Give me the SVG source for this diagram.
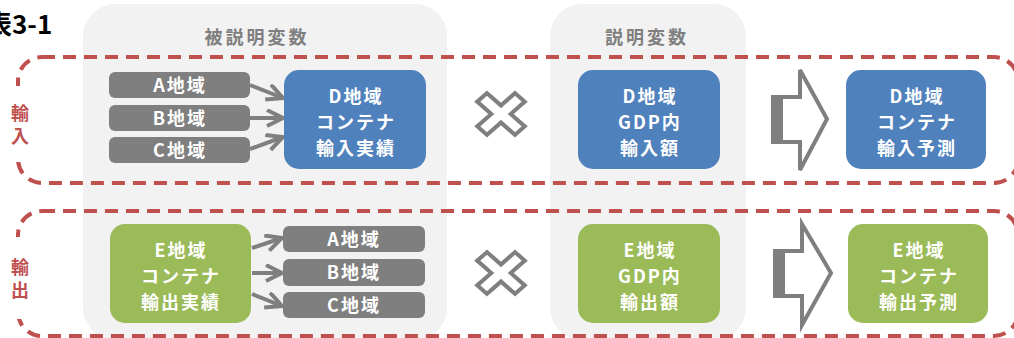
<svg xmlns="http://www.w3.org/2000/svg" width="1014" height="338" viewBox="0 0 1014 338">
<defs>
<style>
.panel{fill:#f2f2f2}
.hdr{font-family:"Noto Sans CJK JP","Liberation Sans",sans-serif;font-weight:bold;font-size:18px;fill:#7f7f7f;text-anchor:middle;letter-spacing:3px}
.dash{fill:none;stroke:#c0504d;stroke-width:4;stroke-dasharray:13 8}
.side{font-family:"Noto Sans CJK JP","Liberation Sans",sans-serif;font-weight:bold;font-size:18px;fill:#c0504d;text-anchor:middle;letter-spacing:5px}
.gbox{fill:#7f7f7f}
.blue{fill:#4f81bd}
.green{fill:#9bbb59}
.t{font-family:"Noto Sans CJK JP","Liberation Sans",sans-serif;font-weight:bold;font-size:18px;fill:#ffffff;text-anchor:middle;letter-spacing:2px}
.conn{stroke:#7f7f7f;stroke-width:4;fill:none}
.cross{fill:#ffffff;stroke:#7f7f7f;stroke-width:4;stroke-linejoin:miter}
.big{fill:#ffffff;stroke:#7f7f7f;stroke-width:4;stroke-linejoin:miter}
</style>
<marker id="chev" markerUnits="userSpaceOnUse" markerWidth="20" markerHeight="20" refX="17" refY="9" orient="auto" viewBox="0 0 20 20">
<path d="M1,1 L17,9 L1,17" fill="none" stroke="#7f7f7f" stroke-width="4"/>
</marker>
<polygon id="xs" class="cross" points="-22,-13 -13,-22 0,-9 13,-22 22,-13 9,0 22,13 13,22 0,9 -13,22 -22,13 -9,0"/>
</defs>

<text x="-14" y="34" font-family="'Noto Sans CJK JP','Liberation Sans',sans-serif" font-weight="bold" font-size="26" fill="#000000">表3-1</text>

<g id="panels">
<rect class="panel" x="83" y="4" width="364" height="336" rx="32"/>
<rect class="panel" x="550" y="4" width="196" height="336" rx="32"/>
<text class="hdr" x="257" y="44">被説明変数</text>
<text class="hdr" x="647" y="44">説明変数</text>
</g>

<g id="groups">
<rect class="dash" x="18" y="57" width="1000" height="126" rx="24"/>
<rect x="6" y="86" width="28" height="76" fill="#ffffff"/>
<text class="side" x="20" y="127" writing-mode="tb">輸入</text>
<rect class="dash" x="18" y="211" width="1000" height="125" rx="24"/>
<rect x="6" y="237" width="28" height="82" fill="#ffffff"/>
<text class="side" x="20" y="281" writing-mode="tb">輸出</text>
</g>

<g id="connectors">
<line class="conn" x1="250" y1="85" x2="283" y2="98" marker-end="url(#chev)"/>
<line class="conn" x1="250" y1="118" x2="283" y2="118" marker-end="url(#chev)"/>
<line class="conn" x1="250" y1="149" x2="283" y2="137" marker-end="url(#chev)"/>
<line class="conn" x1="252" y1="248" x2="282" y2="238" marker-end="url(#chev)"/>
<line class="conn" x1="252" y1="273" x2="282" y2="273" marker-end="url(#chev)"/>
<line class="conn" x1="252" y1="294" x2="282" y2="306" marker-end="url(#chev)"/>
</g>

<g id="nodeA1"><rect class="gbox" x="109" y="72" width="141" height="26" rx="6"/><text class="t" x="180" y="92">A地域</text></g>
<g id="nodeB1"><rect class="gbox" x="109" y="105" width="141" height="26" rx="6"/><text class="t" x="180" y="125">B地域</text></g>
<g id="nodeC1"><rect class="gbox" x="109" y="137" width="141" height="26" rx="6"/><text class="t" x="180" y="157">C地域</text></g>

<g id="nodeDImport">
<rect class="blue" x="284" y="70" width="142" height="99" rx="15"/>
<text class="t" x="356" y="103">D地域</text>
<text class="t" x="356" y="129">コンテナ</text>
<text class="t" x="356" y="155">輸入実績</text>
</g>

<g id="cross1"><use href="#xs" transform="translate(501,114) scale(1.08,0.95)"/></g>

<g id="nodeDGDP">
<rect class="blue" x="578" y="70" width="142" height="99" rx="15"/>
<text class="t" x="650" y="103">D地域</text>
<text class="t" x="650" y="129">GDP内</text>
<text class="t" x="650" y="155">輸入額</text>
</g>

<g id="arrow1">
<polygon class="big" points="773,97 800,97 800,70 827,119 800,170 800,142 773,142"/>
<rect x="771" y="95" width="12" height="49" fill="#7f7f7f"/>
</g>

<g id="nodeDForecast">
<rect class="blue" x="846" y="70" width="140" height="99" rx="15"/>
<text class="t" x="917" y="103">D地域</text>
<text class="t" x="917" y="129">コンテナ</text>
<text class="t" x="917" y="155">輸入予測</text>
</g>

<g id="nodeEExport">
<rect class="green" x="110" y="224" width="141" height="99" rx="15"/>
<text class="t" x="181" y="257">E地域</text>
<text class="t" x="181" y="283">コンテナ</text>
<text class="t" x="181" y="309">輸出実績</text>
</g>

<g id="nodeA2"><rect class="gbox" x="283" y="226" width="142" height="26" rx="6"/><text class="t" x="354" y="246">A地域</text></g>
<g id="nodeB2"><rect class="gbox" x="283" y="259" width="142" height="27" rx="6"/><text class="t" x="354" y="279">B地域</text></g>
<g id="nodeC2"><rect class="gbox" x="283" y="292" width="142" height="26" rx="6"/><text class="t" x="354" y="312">C地域</text></g>

<g id="cross2"><use href="#xs" transform="translate(501,273) scale(1.08,0.95)"/></g>

<g id="nodeEGDP">
<rect class="green" x="578" y="224" width="142" height="99" rx="15"/>
<text class="t" x="650" y="257">E地域</text>
<text class="t" x="650" y="283">GDP内</text>
<text class="t" x="650" y="309">輸出額</text>
</g>

<g id="arrow2">
<polygon class="big" points="775,251 802,251 802,224 831,273 802,325 802,296 775,296"/>
<rect x="773" y="249" width="12" height="49" fill="#7f7f7f"/>
</g>

<g id="nodeEForecast">
<rect class="green" x="848" y="224" width="140" height="99" rx="15"/>
<text class="t" x="919" y="257">E地域</text>
<text class="t" x="919" y="283">コンテナ</text>
<text class="t" x="919" y="309">輸出予測</text>
</g>
</svg>
